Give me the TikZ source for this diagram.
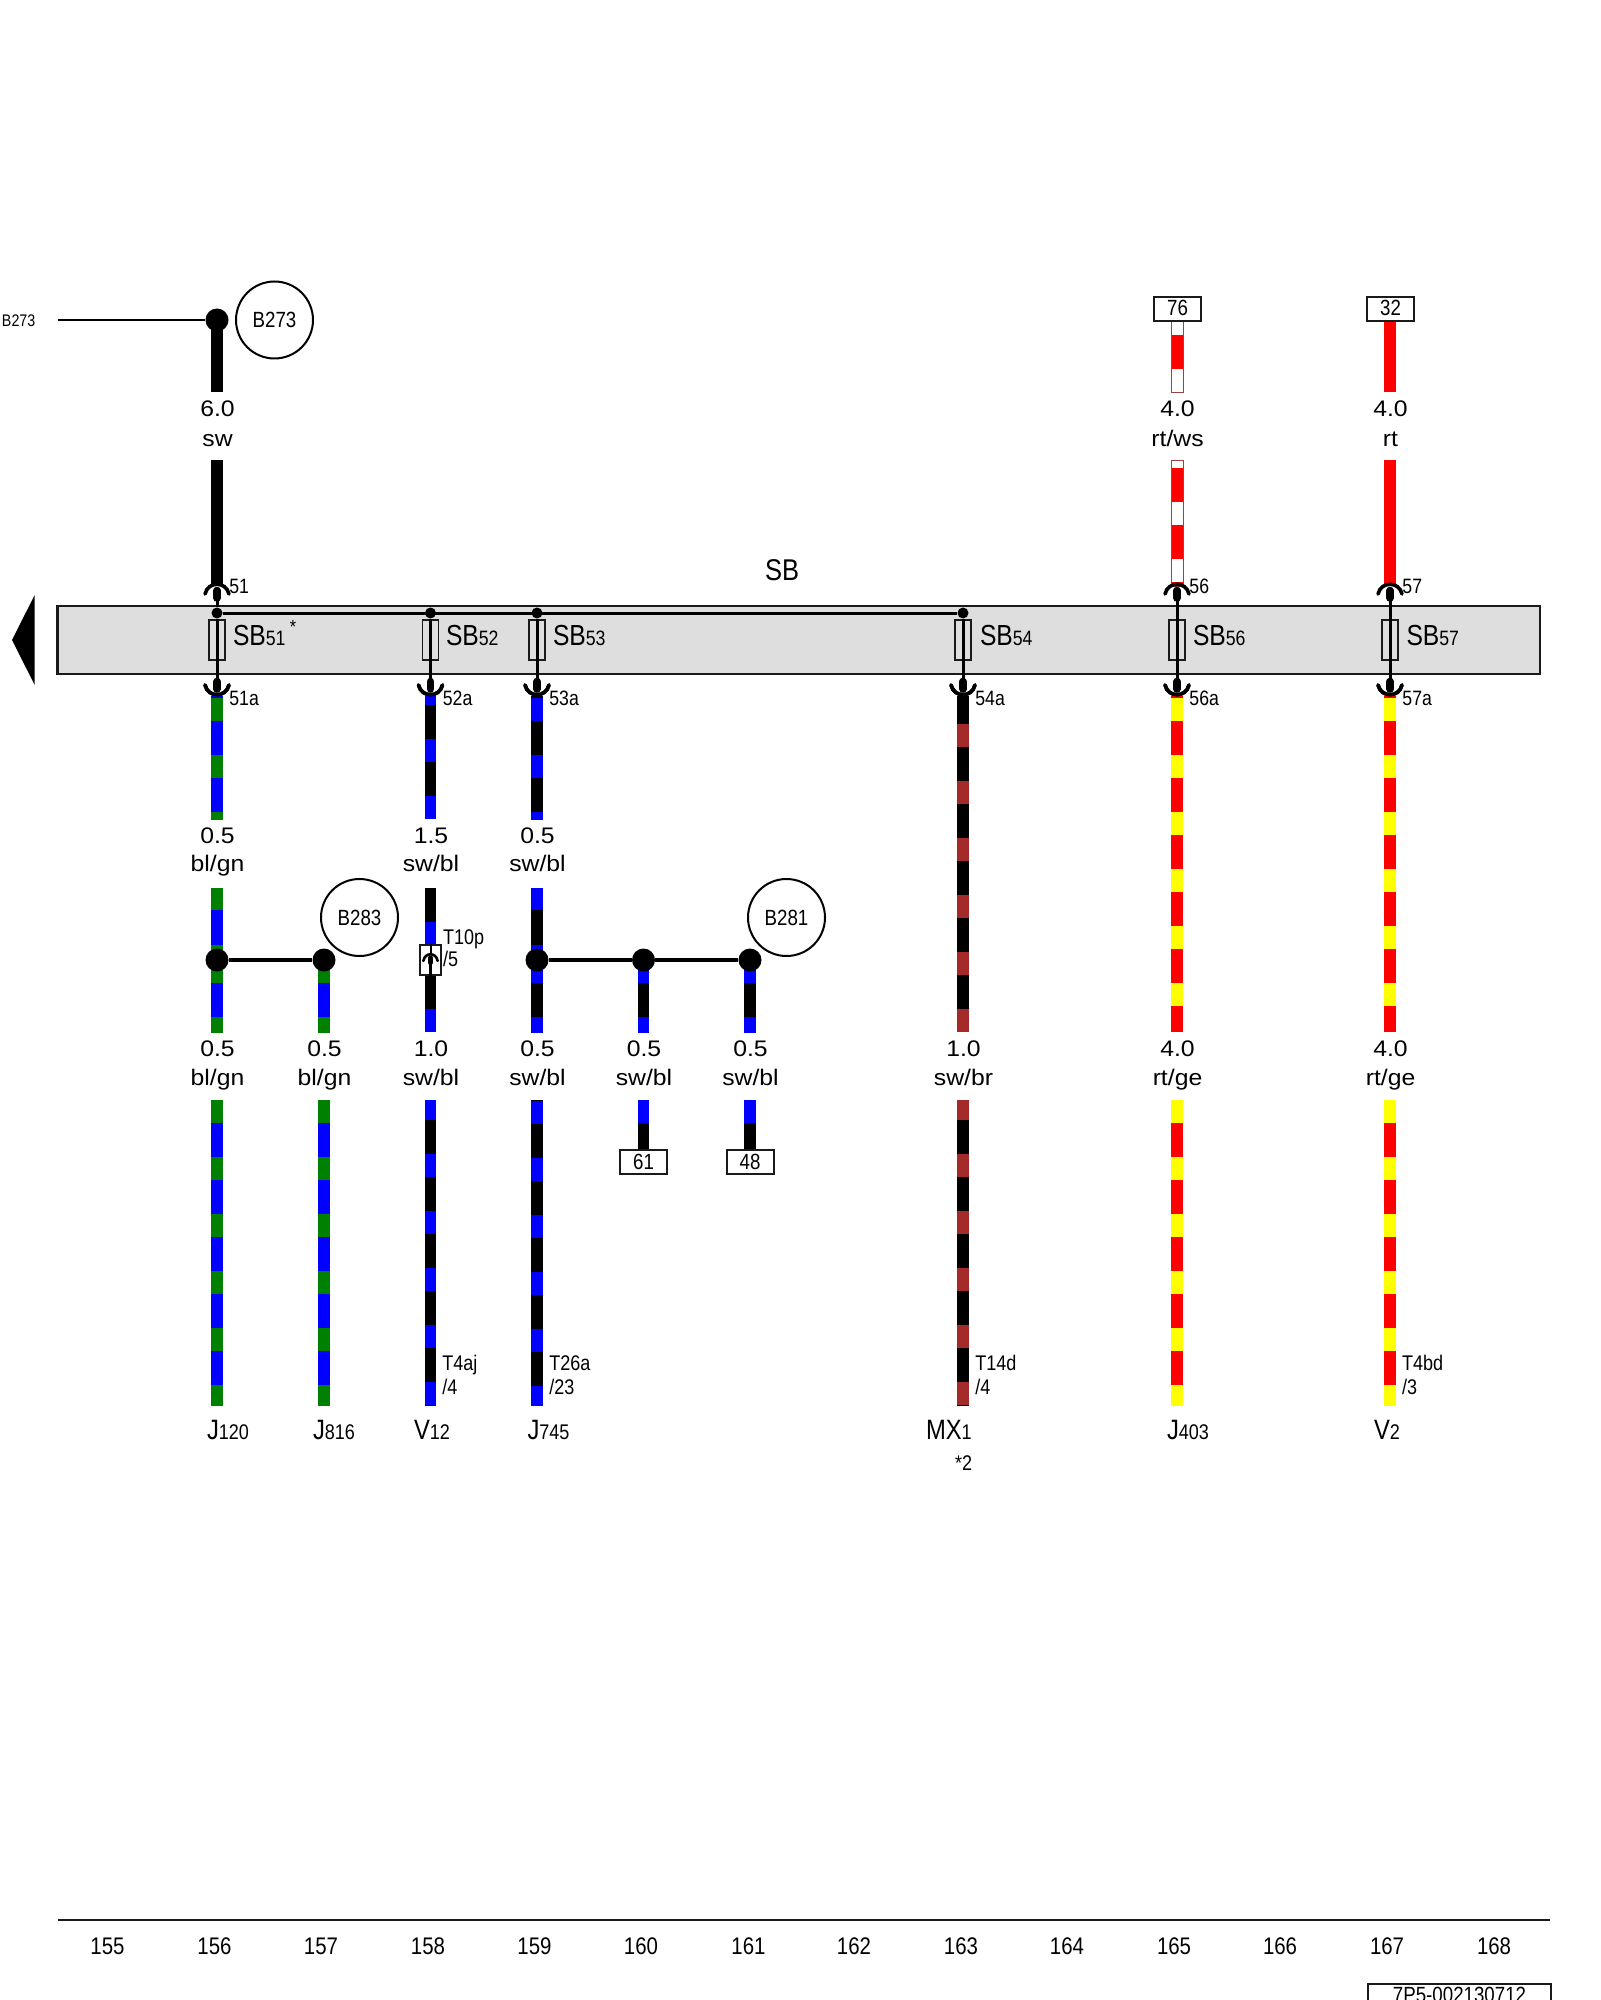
\documentclass[tikz,border=0pt]{standalone}
\usepackage{fontspec}
\setmainfont{Liberation Sans}
\newfontfamily\fn[FakeStretch=0.85]{Liberation Sans}
\newfontfamily\fw[FakeStretch=1.1]{Liberation Sans}
\definecolor{cgreen}{HTML}{008000}
\definecolor{cblue}{HTML}{0000FF}
\definecolor{cred}{HTML}{FF0000}
\definecolor{cyel}{HTML}{FFFF00}
\definecolor{cbrown}{HTML}{A52A2A}
\definecolor{cgray}{HTML}{DEDEDE}
\definecolor{cink}{HTML}{1A1A1A}
\definecolor{cedge}{HTML}{A04040}
\tikzset{
  txt/.style={inner sep=0pt,outer sep=0pt,anchor=base west},
  ctr/.style={inner sep=0pt,outer sep=0pt,anchor=base},
  mid/.style={inner sep=0pt,outer sep=0pt,anchor=center},
  wval/.style={ctr,font=\fw\fontsize{11.25}{13}\selectfont},
  pinlab/.style={txt,font=\fn\fontsize{10.4}{12}\selectfont},
  connlab/.style={txt,font=\fn\fontsize{10.6}{12}\selectfont},
  boxlab/.style={mid,draw=cink,line width=1pt,fill=white,minimum width=23.5pt,minimum height=12pt,font=\fn\fontsize{11}{12}\selectfont},
  bubble/.style={mid,circle,draw=black,line width=1pt,minimum size=38.5pt,font=\fn\fontsize{11}{12}\selectfont},
  bigdot/.style={circle,fill=black,inner sep=0pt,minimum size=11.5pt},
  busdot/.style={circle,fill=black,inner sep=0pt,minimum size=5.5pt},
  fuse/.style={rectangle,draw=cink,line width=.7pt,inner sep=0pt,minimum width=8pt,minimum height=20pt},
  thinwire/.style={draw=black,line width=1.5pt},
  blob/.style={draw=black,line width=3.8pt,line cap=round},
  socket/.style={draw=black,line width=1.8pt,line cap=round},
  tick/.style={ctr,font=\fn\fontsize{12}{13}\selectfont}
}
\newcommand\stripe[7]{% x, y1, y2, base, stripe colour, first stripe top, stripe length
  \begin{scope}
    \clip (#1-5.9,#2) rectangle (#1+5.9,#3);
    \fill[#4] (#1-5.9,#2) rectangle (#1+5.9,#3);
    \foreach \k in {0,...,7}{\fill[#5] (#1-5.9,{#6+57*\k}) rectangle ++(11.8,#7);}
  \end{scope}}
\newcommand\toppin[2]{% x, id
  \coordinate (tp#2) at (#1,598);
  \draw[socket] (#1-12,594) .. controls (#1-9,581) and (#1+9,581) .. (#1+12,594);
  \draw[blob] (#1,590.5) -- (#1,598);
  \node[pinlab] (pt#2) at (#1+12.4,593.5) {#2};}
\newcommand\fuseunit[3]{% id, x, text x
  \node[fuse] (f#1) at (#2,640) {};
  \node[txt] (sb#1) at (#3,645) {{\fn\fontsize{14.5}{16}\selectfont SB}{\fn\fontsize{10.4}{12}\selectfont #1}};
  \coordinate (bp#1) at (#2,685);
  \draw[thinwire] (f#1.north) -- (f#1.south);
  \draw[thinwire] (f#1.south) -- (bp#1);
  \draw[socket] (#2-12,685) .. controls (#2-9,698) and (#2+9,698) .. (#2+12,685);
  \draw[blob] (#2,681.5) -- (#2,689);
  \node[pinlab] (pa#1) at (#2+12.4,705) {#1a};}
\newcommand\comp[4]{% id, x, big, small
  \node[txt] (#1) at (#2,1439.5) {{\fn\fontsize{14}{16}\selectfont #3}{\fn\fontsize{10.6}{12}\selectfont #4}};}
\newcommand\gauge[6]{% id, x, base, gap, value, colour text
  \node[wval] (v#1) at (#2+0.5,#3+1) {#5};
  \node[wval] (c#1) at (#2+0.5,#3+1+#4) {#6};}
\begin{document}
\begin{tikzpicture}[x=0.5pt,y=-0.5pt]
\useasboundingbox (0,0) rectangle (1600,2000);
\clip (0,0) rectangle (1600,2000);
\fill[white] (0,0) rectangle (1600,2000);
% terminal strip
\node[inner sep=0pt,outer sep=0pt,rectangle,draw=cink,fill=cgray,line width=1.05pt,minimum width=741.25pt,minimum height=34.3pt,anchor=north west] (strip) at (57.5,605.7) {};
\fill[black] (12,640) -- (34.7,595) -- (34.7,685) -- cycle;
\node[mid,font=\fn\fontsize{15}{16}\selectfont] (sbtitle) at (782,570.5) {SB};
% bus
\node[busdot] (d51) at (217,613) {};
\node[busdot] (d52) at (430.5,613) {};
\node[busdot] (d53) at (537,613) {};
\node[busdot] (d54) at (963,613) {};
\draw[thinwire] (d51) -- (d54);
% fuses
\fuseunit{51}{217}{233}
\fuseunit{52}{430.5}{446}
\fuseunit{53}{537}{553}
\fuseunit{54}{963}{980}
\fuseunit{56}{1177}{1193}
\fuseunit{57}{1390}{1406.5}
\node[inner sep=0pt,font=\fn\fontsize{9.5}{10}\selectfont] (star) at (293,627) {*};
\draw[thinwire] (d51) -- (f51.north);
\draw[thinwire] (d52) -- (f52.north);
\draw[thinwire] (d53) -- (f53.north);
\draw[thinwire] (d54) -- (f54.north);
% top wires
\stripe{217}{320}{392.3}{black}{black}{320}{1}
\stripe{217}{460.3}{586}{black}{black}{460}{1}
\stripe{1177}{320.7}{392.3}{white}{cred}{335}{34.3}
\draw[cedge,line width=.35pt] (1171.1,320.7) rectangle (1182.9,392.3);
\stripe{1177}{460.3}{586}{white}{cred}{468.3}{34}
\draw[cedge,line width=.35pt] (1171.1,460.3) rectangle (1182.9,586);
\stripe{1390}{320.7}{392.3}{cred}{cred}{320}{1}
\stripe{1390}{460.3}{586}{cred}{cred}{460}{1}
\toppin{217}{51}
\toppin{1177}{56}
\toppin{1390}{57}
\draw[thinwire] (tp51) -- (d51);
\draw[thinwire] (tp56) -- (f56.north);
\draw[thinwire] (tp57) -- (f57.north);
% B273
\node[bigdot] (jb273) at (217,320) {};
\node[txt,font=\fn\fontsize{8.4}{10}\selectfont] (lb273) at (2,327) {B273};
\coordinate (startb) at (57.5,320);
\draw[line width=1pt] (startb) -- (jb273);
\node[bubble] (cb273) at (274.5,320) {B273};
% boxes top
\node[boxlab] (b76) at (1177.5,308.7) {\raisebox{1pt}{76}};
\node[boxlab] (b32) at (1390.5,308.7) {\raisebox{1pt}{32}};
% wires below strip, upper part
\stripe{217}{696}{819}{cblue}{cgreen}{698}{22.5}
\stripe{430.5}{696}{819}{black}{cblue}{682}{23}
\stripe{537}{696}{819}{black}{cblue}{698}{22.5}
\stripe{963}{696}{1032.3}{black}{cbrown}{724}{23}
\stripe{1177}{696}{1032.3}{cred}{cyel}{698}{23}
\stripe{1390}{696}{1032.3}{cred}{cyel}{698}{23}
% sockets over wire tops
\foreach \xx in {217,430.5,537,963,1177,1390}{
  \draw[socket] (\xx-12,685) .. controls (\xx-9,698) and (\xx+9,698) .. (\xx+12,685);}
% middle wires
\stripe{217}{887.7}{960}{cblue}{cgreen}{887.7}{22.5}
\stripe{217}{960}{1032.3}{cblue}{cgreen}{960}{23}
\stripe{324}{960}{1032.3}{cblue}{cgreen}{960}{23}
\stripe{430.5}{887.7}{960}{black}{cblue}{921.7}{23}
\stripe{430.5}{960}{1032.3}{black}{cblue}{952.3}{23}
\stripe{537}{887.7}{960}{black}{cblue}{887.7}{22.5}
\stripe{537}{960}{1032.3}{black}{cblue}{960}{23}
\stripe{643.5}{960}{1032.3}{black}{cblue}{960}{23}
\stripe{750}{960}{1032.3}{black}{cblue}{960}{23}
% junctions
\node[bigdot] (j1) at (217,960) {};
\node[bigdot] (j2) at (324,960) {};
\draw[line width=1.7pt] (j1) -- (j2);
\node[bigdot] (j3) at (537,960) {};
\node[bigdot] (j4) at (643.5,960) {};
\node[bigdot] (j5) at (750,960) {};
\draw[line width=1.7pt] (j3) -- (j4);
\draw[line width=1.7pt] (j4) -- (j5);
\node[bubble] (cb283) at (359.5,917.5) {B283};
\node[bubble] (cb281) at (786.5,917.5) {B281};
% inline connector T10p
\node[rectangle,draw=cink,fill=white,line width=.9pt,inner sep=0pt,minimum width=10.6pt,minimum height=15pt] (t10) at (430.5,960) {};
\coordinate (t10m) at (430.5,954);
\coordinate (t10n) at (430.5,962.5);
\draw[line width=1pt] (t10.north) -- (t10m);
\draw[line width=1.3pt,line cap=round] (423.3,961) .. controls (425,952) and (436,952) .. (437.7,961);
\draw[line width=2.6pt,line cap=round] (430.5,958) -- (t10n);
\draw[line width=1.2pt] (t10n) -- (t10.south);
\node[connlab] (lt10p) at (443,944) {T10p};
\node[connlab] (lt10s) at (443,966.7) {/5};
% lower wires
\stripe{217}{1100.3}{1405.7}{cblue}{cgreen}{1100.3}{22.7}
\stripe{324}{1100.3}{1405.7}{cblue}{cgreen}{1100.3}{22.7}
\stripe{430.5}{1100.3}{1405.7}{black}{cblue}{1097}{23}
\stripe{537}{1100.3}{1405.7}{black}{cblue}{1101}{23}
\stripe{643.5}{1100.3}{1152}{black}{cblue}{1100.3}{23}
\stripe{750}{1100.3}{1152}{black}{cblue}{1100.3}{23}
\stripe{963}{1100.3}{1405.7}{black}{cbrown}{1097}{23}
\stripe{1177}{1100.3}{1405.7}{cred}{cyel}{1100.3}{23}
\stripe{1390}{1100.3}{1405.7}{cred}{cyel}{1100.3}{23}
\node[boxlab] (b61) at (643.5,1162) {61};
\node[boxlab] (b48) at (750,1162) {48};
% gauge and colour labels
\gauge{a}{217}{416}{29}{6.0}{sw}
\gauge{b}{1177}{416}{29}{4.0}{rt/ws}
\gauge{c}{1390}{416}{29}{4.0}{rt}
\gauge{d}{217}{842.7}{28}{0.5}{bl/gn}
\gauge{e}{430.5}{842.7}{28}{1.5}{sw/bl}
\gauge{f}{537}{842.7}{28}{0.5}{sw/bl}
\gauge{g}{217}{1055}{29.7}{0.5}{bl/gn}
\gauge{h}{324}{1055}{29.7}{0.5}{bl/gn}
\gauge{i}{430.5}{1055}{29.7}{1.0}{sw/bl}
\gauge{j}{537}{1055}{29.7}{0.5}{sw/bl}
\gauge{k}{643.5}{1055}{29.7}{0.5}{sw/bl}
\gauge{l}{750}{1055}{29.7}{0.5}{sw/bl}
\gauge{m}{963}{1055}{29.7}{1.0}{sw/br}
\gauge{n}{1177}{1055}{29.7}{4.0}{rt/ge}
\gauge{o}{1390}{1055}{29.7}{4.0}{rt/ge}
% connector labels
\node[connlab] (t4aj) at (442.3,1370.7) {T4aj};
\node[connlab] (t4ajp) at (442.3,1394) {/4};
\node[connlab] (t26a) at (549.3,1370.7) {T26a};
\node[connlab] (t26ap) at (549.3,1394) {/23};
\node[connlab] (t14d) at (975.4,1370.7) {T14d};
\node[connlab] (t14dp) at (975.4,1394) {/4};
\node[connlab] (t4bd) at (1402,1370.7) {T4bd};
\node[connlab] (t4bdp) at (1402,1394) {/3};
% components
\comp{j120}{207}{J}{120}
\comp{j816}{313}{J}{816}
\comp{v12}{414}{V}{12}
\comp{j745}{527.5}{J}{745}
\comp{mx1}{926}{MX}{1}
\comp{j403}{1167}{J}{403}
\comp{v2}{1374}{V}{2}
\node[connlab] (star2) at (955,1470) {*2};
% page axis
\coordinate (axa) at (57.5,1920);
\coordinate (axb) at (1550,1920);
\draw[draw=cink,line width=1.1pt] (axa) -- (axb);
\node[tick] (n155) at (107.5,1954.3) {155};
\node[tick] (n156) at (214.5,1954.3) {156};
\node[tick] (n157) at (321,1954.3) {157};
\node[tick] (n158) at (428,1954.3) {158};
\node[tick] (n159) at (534.5,1954.3) {159};
\node[tick] (n160) at (641,1954.3) {160};
\node[tick] (n161) at (748.5,1954.3) {161};
\node[tick] (n162) at (854,1954.3) {162};
\node[tick] (n163) at (961,1954.3) {163};
\node[tick] (n164) at (1067,1954.3) {164};
\node[tick] (n165) at (1174,1954.3) {165};
\node[tick] (n166) at (1280,1954.3) {166};
\node[tick] (n167) at (1387,1954.3) {167};
\node[tick] (n168) at (1494,1954.3) {168};
% drawing number, cut by the page edge
\draw[draw=cink,line width=1.1pt] (1368.3,2010) -- (1368.3,1984.3) -- (1550.7,1984.3) -- (1550.7,2010);
\node[ctr,font=\fn\fontsize{11}{12}\selectfont] (docno) at (1459.5,2002.5) {7P5-002130712};
\end{tikzpicture}
\end{document}
